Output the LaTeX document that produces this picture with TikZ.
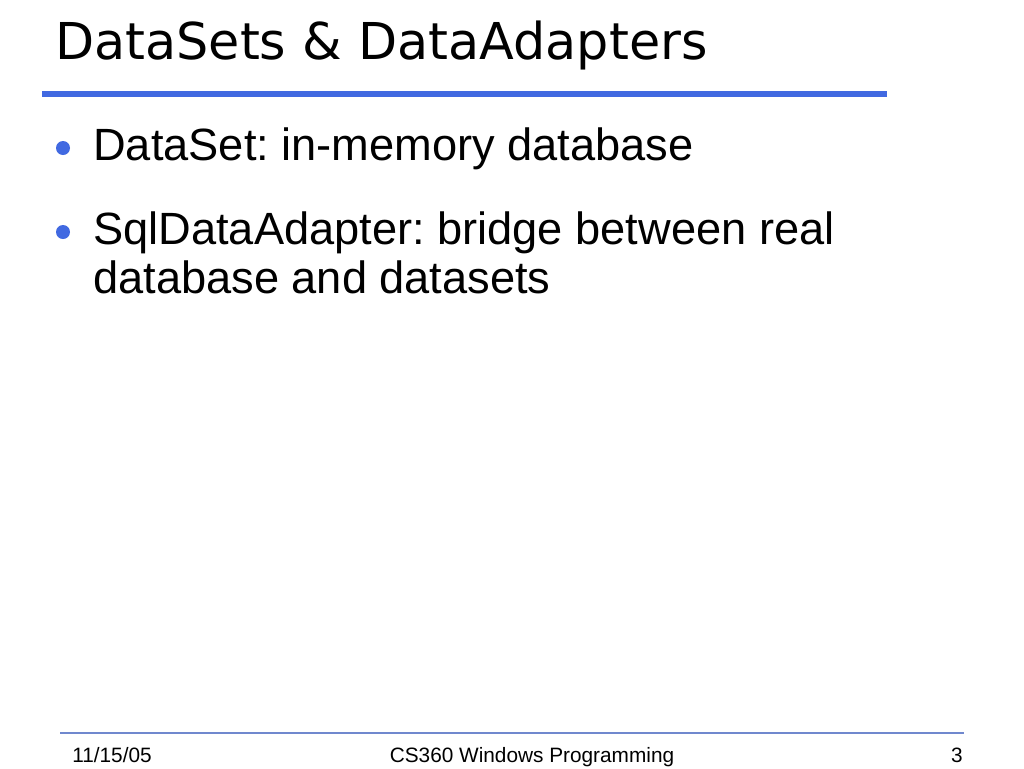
\documentclass[tikz,border=0pt]{standalone}
\usepackage{fontspec}
\setmainfont{Liberation Sans}
\newfontfamily\titlefont{DejaVu Sans}
\usepackage{xcolor}
\definecolor{slideblue}{RGB}{65,105,225}
\definecolor{footblue}{RGB}{112,136,206}
\frenchspacing

\begin{document}
\begin{tikzpicture}[%
        x=0.75pt, y=-0.75pt,        % one unit is one pixel of the slide
        inner sep=0pt,
    ]
    \tikzset{
        title/.style={anchor=base west, font={\titlefont\fontsize{38.1}{44}\selectfont}},
        item/.style={anchor=base west, align=left, font={\fontsize{33.9}{36.75}\selectfont}},
        bull/.style={circle, fill=slideblue, minimum size=10.5pt},
        foot/.style={anchor=base, font={\fontsize{15.6}{18}\selectfont}},
        % -------------------------------------------------
        % rule lines of the slide
        headrule/.style={draw, slideblue, line width=4.5pt},
        footrule/.style={draw, footblue, line width=1.1pt},
    }
    \useasboundingbox [fill=white] (0,0) rectangle (1024,768);
    %%% Title
    \node [title] (heading) at (55,59) {DataSets \& DataAdapters};
    \draw [headrule] (42,93.5) -- (887,93.5);
    %%% Bullets
    \node [bull] (b1) at (63,148) {};
    \node [item] (dataset) at (93,160) {DataSet: in-memory database};
    \node [bull] (b2) at (63,232) {};
    % base of a two-line node is the baseline of its last line
    \node [item] (adapter) at (93,293) {SqlDataAdapter: bridge between real\\database and datasets};
    %%% Footer
    \draw [footrule] (60,733) -- (964,733);
    \node [foot, anchor=base west] (date) at (72,762) {11/15/05};
    \node [foot] (course) at (532,762) {CS360 Windows Programming};
    \node [foot, anchor=base east] (page) at (963,762) {3};
\end{tikzpicture}
\end{document}
